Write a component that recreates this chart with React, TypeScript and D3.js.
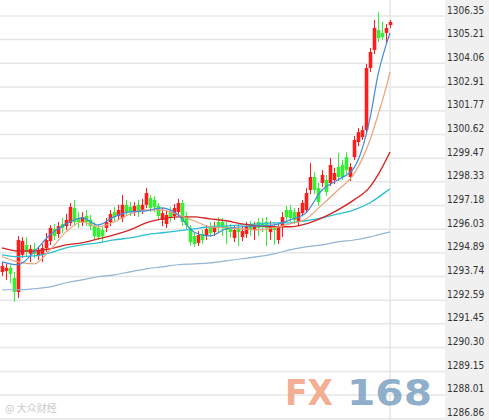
import React from 'react';
import * as d3 from 'd3';

const tickLabels = ['1306.35','1305.21','1304.06','1302.91','1301.77','1300.62','1299.47','1298.33','1297.18','1296.03','1294.89','1293.74','1292.59','1291.45','1290.30','1289.15','1288.01','1286.86'];

const opens = [1293.96,1294.01,1294.16,1293.67,1292.99,1294.79,1295.27,1294.84,1295.08,1294.74,
1294.79,1295.12,1295.46,1296.04,1295.80,1296.28,1296.18,1296.33,1297.06,1296.57,
1296.38,1296.67,1296.48,1296.18,1296.09,1295.99,1296.09,1296.38,1296.86,1296.67,
1296.57,1297.21,1297.11,1296.86,1297.21,1296.96,1297.21,1297.54,1297.45,1297.16,
1296.48,1296.28,1296.86,1296.67,1296.86,1297.30,1296.62,1296.09,1295.70,1295.37,
1295.80,1295.70,1296.18,1295.89,1296.38,1296.38,1296.18,1296.09,1295.61,1296.09,
1295.65,1295.80,1296.28,1295.99,1296.38,1296.33,1296.38,1295.89,1296.18,1295.51,
1296.14,1296.96,1296.96,1296.86,1296.38,1296.81,1296.96,1297.93,1298.56,1298.02,
1298.27,1298.41,1298.27,1298.41,1299.04,1299.14,1299.52,1298.56,1299.52,1300.25,
1300.49,1300.83,1303.83,1304.70,1305.67,1305.53,1305.53,1305.91];

const closes = [1294.25,1294.16,1293.87,1292.99,1295.51,1295.46,1294.93,1295.08,1294.84,1294.98,
1295.12,1295.51,1296.09,1295.70,1296.18,1296.09,1296.48,1297.11,1296.38,1296.38,
1296.62,1296.38,1296.18,1295.70,1295.65,1295.70,1296.38,1296.77,1296.62,1296.96,
1297.21,1296.86,1296.86,1297.16,1296.86,1297.21,1297.78,1297.06,1297.11,1296.67,
1296.81,1296.72,1296.57,1297.06,1297.30,1296.38,1296.23,1295.41,1295.32,1295.75,
1295.51,1296.04,1295.84,1296.18,1296.18,1296.09,1295.99,1295.89,1295.99,1295.89,
1295.94,1296.18,1295.99,1296.23,1296.09,1296.14,1296.09,1296.18,1295.99,1296.14,
1296.62,1296.62,1296.57,1296.48,1296.86,1297.30,1297.78,1298.56,1297.93,1297.35,
1298.66,1297.83,1299.14,1298.75,1298.56,1298.56,1298.90,1299.04,1300.35,1300.73,
1300.83,1303.83,1304.61,1305.77,1305.28,1305.33,1305.77,1306.06];

const highs = [1294.44,1294.35,1294.30,1293.96,1295.70,1295.65,1295.65,1295.27,1295.37,1295.17,
1295.32,1295.85,1296.23,1296.28,1296.38,1296.57,1296.77,1297.30,1297.45,1296.86,
1296.86,1296.96,1296.72,1296.38,1296.23,1296.18,1296.57,1296.96,1297.11,1297.21,
1297.69,1297.45,1297.35,1297.35,1297.45,1297.50,1298.02,1297.69,1297.64,1297.30,
1297.06,1296.91,1297.11,1297.25,1297.50,1297.45,1296.86,1296.23,1295.89,1295.94,
1295.99,1296.23,1296.38,1296.38,1296.62,1296.57,1296.38,1296.28,1296.18,1296.33,
1296.18,1296.38,1296.43,1296.38,1296.57,1296.57,1296.62,1296.43,1296.38,1296.28,
1296.86,1297.16,1297.21,1297.06,1297.06,1297.45,1298.02,1299.23,1298.80,1298.27,
1298.90,1298.66,1299.48,1299.00,1299.72,1299.38,1299.76,1299.23,1300.54,1300.93,
1301.03,1304.03,1304.80,1306.16,1306.54,1306.06,1305.96,1306.16];

const lows = [1293.77,1293.57,1293.42,1292.51,1292.70,1294.64,1294.74,1294.44,1294.64,1294.54,
1294.44,1294.93,1295.27,1295.51,1295.61,1295.84,1295.99,1296.18,1296.18,1296.09,
1296.18,1296.18,1295.99,1295.51,1295.51,1295.41,1295.89,1296.18,1296.38,1296.48,
1296.38,1296.67,1296.67,1296.67,1296.62,1296.77,1297.06,1296.86,1296.86,1296.48,
1296.18,1296.09,1296.38,1296.48,1296.67,1296.18,1295.99,1295.22,1295.17,1295.22,
1295.32,1295.51,1295.65,1295.70,1295.89,1295.70,1295.32,1295.61,1295.41,1295.22,
1295.46,1295.61,1295.70,1295.51,1295.70,1295.89,1295.22,1295.51,1295.27,1295.32,
1295.65,1296.43,1296.38,1296.28,1296.18,1296.67,1296.86,1297.73,1297.73,1297.16,
1298.07,1297.64,1298.12,1298.22,1298.36,1298.41,1298.71,1298.36,1299.38,1300.06,
1300.35,1300.64,1303.64,1304.51,1305.09,1305.19,1305.04,1305.77];

const maIndex = [0,4,8,12,16,20,24,28,32,36,40,44,48,52,56,60,64,68,72,76,80,84,88,92,94,96,97];
const ma5 = [1294.45,1294.31,1294.93,1295.76,1296.29,1296.58,1296.24,1296.63,1296.87,1296.92,1297.06,1296.73,1295.90,1295.71,1296.05,1296.15,1296.19,1296.24,1296.48,1296.82,1297.93,1298.42,1299.00,1301.41,1303.50,1304.94,1305.53];
const ma10 = [1294.70,1294.45,1294.35,1295.03,1295.90,1296.38,1296.15,1296.38,1296.77,1296.97,1296.97,1296.73,1296.44,1296.15,1296.10,1296.05,1296.00,1296.10,1296.29,1296.53,1297.21,1297.93,1298.71,1300.35,1301.56,1302.87,1303.64];
const ma20 = [1295.13,1294.98,1294.98,1295.08,1295.27,1295.37,1295.56,1295.76,1296.00,1296.34,1296.53,1296.63,1296.63,1296.53,1296.44,1296.29,1296.19,1296.15,1296.15,1296.29,1296.58,1296.97,1297.45,1298.08,1298.66,1299.38,1299.77];
const ma30 = [1294.79,1294.70,1294.74,1294.89,1295.13,1295.27,1295.37,1295.51,1295.61,1295.76,1295.86,1295.95,1296.05,1296.15,1296.19,1296.24,1296.29,1296.34,1296.34,1296.44,1296.58,1296.77,1296.97,1297.31,1297.56,1297.85,1297.98];
const ma60 = [1293.10,1293.10,1293.15,1293.24,1293.44,1293.58,1293.73,1293.82,1293.97,1294.11,1294.21,1294.31,1294.35,1294.40,1294.50,1294.60,1294.70,1294.84,1295.03,1295.18,1295.27,1295.42,1295.51,1295.66,1295.76,1295.85,1295.90];

const maSeries = [
  { values: ma60, color: '#93b5d3', width: 1.2 },
  { values: ma30, color: '#2cbfcf', width: 1.3 },
  { values: ma20, color: '#d42424', width: 1.4 },
  { values: ma10, color: '#e8a27a', width: 1.2 },
  { values: ma5, color: '#3f8ae0', width: 1.2 },
];

const UP = '#ff1c1c';
const DOWN = '#33f033';

export default function App() {
  const W = 489, H = 420;
  const plotRight = 445;
  const x = d3.scaleLinear().domain([0, closes.length - 1]).range([2, 390]);
  const y = d3.scaleLinear().domain([+tickLabels[tickLabels.length - 1], +tickLabels[0]]).range([418.7, 16]);
  const line = d3.line<number>()
    .x((_, i) => x(maIndex[i]))
    .y((d) => y(d))
    .curve(d3.curveMonotoneX);
  const bodyW = 3.6;

  return (
    <svg width={W} height={H} style={{ position: 'absolute', left: 0, top: 0, display: 'block', background: '#fff' }}>
      <rect x={0} y={0} width={W} height={H} fill="#ffffff" />
      <rect x={plotRight} y={0} width={W - plotRight} height={H} fill="#f0f0f0" />
      {tickLabels.map((t) => (
        <line key={'g' + t} x1={0} x2={plotRight} y1={y(+t)} y2={y(+t)} stroke="#e6e6e6" strokeWidth={1.5} />
      ))}
      <line x1={x(closes.length - 1)} x2={x(closes.length - 1)} y1={0} y2={H} stroke="#e6e6e6" strokeWidth={1.5} />
      {tickLabels.map((t) => (
        <text key={'t' + t} x={447} y={y(+t) - 2.5} fontSize={10} fill="#333"
          style={{ fontFamily: "'DejaVu Sans', sans-serif", fontStretch: 'condensed' }}>{t}</text>
      ))}
      <g>
        <text x={285} y={405} fontSize={36} fontWeight="bold" fill="#f2a385" fillOpacity={0.9} textLength={48} lengthAdjust="spacingAndGlyphs"
          style={{ fontFamily: "'DejaVu Sans', sans-serif" }}>FX</text>
        <text x={347} y={405} fontSize={36} fontWeight="bold" fill="#7fa4c3" fillOpacity={0.9} textLength={85} lengthAdjust="spacingAndGlyphs"
          style={{ fontFamily: "'DejaVu Sans', sans-serif" }}>168</text>
        <text x={5} y={412} fontSize={10} fill="#c9c9c9" style={{ fontFamily: "'Noto Sans CJK SC', sans-serif" }}>@ 大众财经</text>
      </g>
      {closes.map((c, i) => {
        const o = opens[i];
        const up = c >= o;
        const col = up ? UP : DOWN;
        const cx = Math.round(x(i)) + 0.5;
        const top = y(Math.max(o, c));
        const bot = y(Math.min(o, c));
        return (
          <g key={'c' + i}>
            <line x1={cx} x2={cx} y1={y(highs[i])} y2={y(lows[i])} stroke={col} strokeWidth={1} />
            <rect x={cx - bodyW / 2} y={top} width={bodyW} height={Math.max(1, bot - top)} fill={col} />
          </g>
        );
      })}
      {maSeries.map((s, k) => (
        <path key={'m' + k} d={line(s.values) || ''} fill="none" stroke={s.color} strokeWidth={s.width} />
      ))}
    </svg>
  );
}
